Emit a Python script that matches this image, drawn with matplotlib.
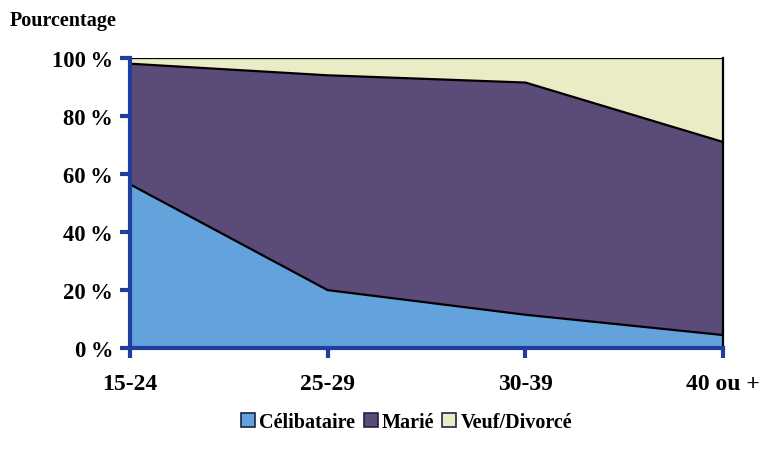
import matplotlib.pyplot as plt
from matplotlib.patches import Patch

categories = ['15-24', '25-29', '30-39', '40 ou +']
celibataire = [56.5, 20, 11.5, 4.5]
marie = [41.5, 74, 80, 66.5]
veuf = [2, 6, 8.5, 29]
series_names = ['Célibataire', 'Marié', 'Veuf/Divorcé']
series_colors = ['#63a2dc', '#5a4b78', '#ebebc6']
yticks = [0, 20, 40, 60, 80, 100]
ytick_labels = ['0\u2009%', '20\u2009%', '40\u2009%', '60\u2009%', '80\u2009%', '100\u2009%']

plt.rcParams['font.family'] = ['Liberation Serif', 'DejaVu Serif']
plt.rcParams['font.weight'] = 'bold'

fig = plt.figure(figsize=(7.63, 4.6), dpi=100)
ax = fig.add_axes([0.170, 0.241, 0.778, 0.631])

x = list(range(len(categories)))
ax.stackplot(x, celibataire, marie, veuf, colors=series_colors,
             edgecolor='none', linewidth=0)

# black boundary lines between the layers
cum1 = celibataire
cum2 = [a + b for a, b in zip(celibataire, marie)]
cum3 = [a + b + c for a, b, c in zip(celibataire, marie, veuf)]
ax.plot(x, cum1, color='black', lw=1.6)
ax.plot(x, cum2, color='black', lw=1.6)
ax.plot(x, cum3, color='black', lw=1.6)

ax.set_xlim(0, len(categories) - 1)
ax.set_ylim(0, 100)
ax.set_xticks(x)
ax.set_xticklabels(categories)
ax.set_yticks(yticks)
ax.set_yticklabels(ytick_labels)

axis_blue = '#1f3f9e'
for side in ['left', 'bottom']:
    ax.spines[side].set_color(axis_blue)
    ax.spines[side].set_linewidth(3)
ax.spines['top'].set_visible(False)
ax.spines['right'].set_color('black')
ax.spines['right'].set_linewidth(1.6)
ax.tick_params(axis='both', colors=axis_blue, width=3, length=7,
               labelsize=17, labelcolor='black')
ax.tick_params(axis='x', pad=11)
ax.tick_params(axis='y', labelsize=16.3, pad=5)

fig.text(0.013, 0.955, 'Pourcentage', fontsize=14.5, fontweight='bold',
         ha='left', va='center')

handles = [Patch(facecolor=c, edgecolor='#222244', lw=1.2) for c in series_colors]
fig.legend(handles, series_names, loc='center', bbox_to_anchor=(0.533, 0.08),
           ncol=3, frameon=False, fontsize=14.5, handlelength=0.7,
           handleheight=0.7, handletextpad=0.2, columnspacing=0.4)

fig.savefig('out.png', dpi=100)
